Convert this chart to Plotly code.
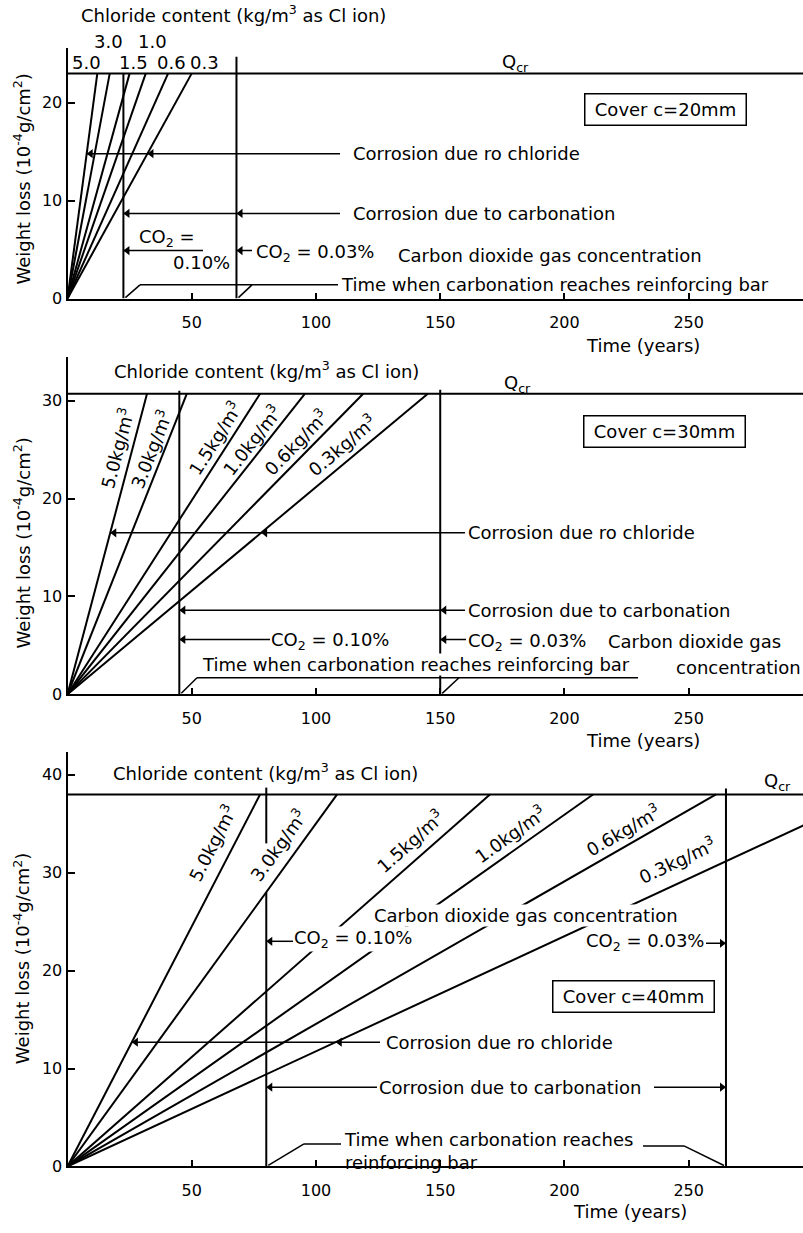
import math
import plotly.graph_objects as go

W, H = 803, 1233
FONT = "DejaVu Sans"

# ---------------- data ----------------
chloride_levels = ["5.0", "3.0", "1.5", "1.0", "0.6", "0.3"]   # kg/m3 as Cl ion
covers = ["Cover c=20mm", "Cover c=30mm", "Cover c=40mm"]
co2_labels = ["0.10%", "0.03%"]

# critical weight loss Qcr (10^-4 g/cm2) per cover
qcr_values = [23.0, 30.7, 38.0]
# time (years) at which each chloride line reaches Qcr
t_qcr_20 = [12.0, 17.0, 25.0, 31.5, 40.5, 50.0]
t_qcr_30 = [32.0, 48.0, 77.5, 95.5, 119.0, 145.0]
t_qcr_40 = [77.5, 108.5, 170.0, 211.5, 261.0, 323.0]
# time when carbonation reaches reinforcing bar: CO2 = 0.10 %, 0.03 %
t_carb_20 = [22.5, 68.0]
t_carb_30 = [45.0, 150.0]
t_carb_40 = [80.0, 265.0]

x_ticks = [50, 100, 150, 200, 250]
y_ticks = [[0, 10, 20], [0, 10, 20, 30], [0, 10, 20, 30, 40]]

# ---------------- geometry ----------------
X_LEFT = 67.5
X_MAX = 296.0
panels = [  # (top px, bottom px)
    (48, 301),
    (360, 700),
    (758, 1176),
]
PPY = 9.87
ymaxes = [(b - t) / PPY for t, b in panels]
PPX = (W - X_LEFT) / X_MAX

fig = go.Figure()

def ax_names(i):
    return ("x" if i == 0 else f"x{i+1}", "y" if i == 0 else f"y{i+1}")

for i, (top, bot) in enumerate(panels):
    xn, yn = ax_names(i)
    xa = "xaxis" if i == 0 else f"xaxis{i+1}"
    ya = "yaxis" if i == 0 else f"yaxis{i+1}"
    fig.layout[xa] = dict(
        domain=[X_LEFT / W, 1], range=[0, X_MAX], anchor=yn,
        tickvals=x_ticks, ticks="inside", ticklen=6, tickwidth=1.5, tickcolor="black",
        ticklabelstandoff=8,
        showline=True, linewidth=2, linecolor="black", showgrid=False, zeroline=False,
        tickfont=dict(family=FONT, size=16, color="black"),
    )
    fig.layout[ya] = dict(
        domain=[1 - bot / H, 1 - top / H], range=[0, ymaxes[i]], anchor=xn,
        tickvals=y_ticks[i], ticks="inside", ticklen=7, tickwidth=1.5, tickcolor="black",
        showline=True, linewidth=2, linecolor="black", showgrid=False, zeroline=False,
        tickfont=dict(family=FONT, size=16, color="black"),
    )

LINE = dict(color="black", width=2)

def seg(i, x0, y0, x1, y1, width=1.5):
    xn, yn = ax_names(i)
    fig.add_shape(type="line", xref=xn, yref=yn, x0=x0, y0=y0, x1=x1, y1=y1,
                  line=dict(color="black", width=width))

heads = {0: ([], [], []), 1: ([], [], []), 2: ([], [], [])}

def head(i, x, y, direction):
    """arrow tip at (x, y); direction -1 = points left, +1 = points right"""
    hx, hy, hs = heads[i]
    hx.append(x - direction * 4.0 / PPX)
    hy.append(y)
    hs.append("triangle-left" if direction < 0 else "triangle-right")

def text(px, py, s, anchor="left", size=18, bg="rgba(0,0,0,0)", angle=0, **kw):
    fig.add_annotation(x=px / W, y=1 - py / H, xref="paper", yref="paper", text=s,
                       showarrow=False, xanchor=anchor, yanchor="middle",
                       font=dict(family=FONT, size=size, color="black"),
                       textangle=angle, bgcolor=bg, borderpad=0, **kw)

def box(px, py, s):
    fig.add_annotation(x=px / W, y=1 - py / H, xref="paper", yref="paper", text=s,
                       showarrow=False, xanchor="center", yanchor="middle",
                       font=dict(family=FONT, size=18, color="black"),
                       bordercolor="black", borderwidth=1.5, borderpad=5,
                       bgcolor="white", width=150, height=20)

t_qcr_all = [t_qcr_20, t_qcr_30, t_qcr_40]
t_carb_all = [t_carb_20, t_carb_30, t_carb_40]

# chloride lines, Qcr line, carbonation verticals (traces)
vert_tops = [[qcr_values[0], 24.7], [31.0, 31.1], [38.7, 38.6]]
for i in range(3):
    xn, yn = ax_names(i)
    q = qcr_values[i]
    for lvl, t in zip(chloride_levels, t_qcr_all[i]):
        fig.add_trace(go.Scatter(x=[0, t], y=[0, q], mode="lines", line=LINE,
                                 xaxis=xn, yaxis=yn, hoverinfo="skip", name=lvl))
    fig.add_trace(go.Scatter(x=[0, X_MAX], y=[q, q], mode="lines", line=LINE,
                             xaxis=xn, yaxis=yn, hoverinfo="skip", name="Qcr"))
    for k, tc in enumerate(t_carb_all[i]):
        top = vert_tops[i][k]
        if i == 2 and k == 0:
            # broken by the 3.0 label
            y_cross = q * tc / t_qcr_all[i][1]
            fig.add_trace(go.Scatter(x=[tc, tc, None, tc, tc], y=[0, y_cross, None, 33.0, top],
                                     mode="lines", line=LINE, xaxis=xn, yaxis=yn,
                                     hoverinfo="skip", connectgaps=False))
        else:
            fig.add_trace(go.Scatter(x=[tc, tc], y=[0, top], mode="lines", line=LINE,
                                     xaxis=xn, yaxis=yn, hoverinfo="skip"))

def ppy(i):
    t, b = panels[i]
    return (b - t) / ymaxes[i]

def xyr(px):
    return (px - X_LEFT) / PPX

# ---------- chloride arrows ----------
ch_levels = [14.8, 16.5, 12.7]
ch_end_px = [340, 465, 380]
for i in range(3):
    q = qcr_values[i]
    y = ch_levels[i]
    t5 = t_qcr_all[i][0] * y / q
    t03 = t_qcr_all[i][5] * y / q
    seg(i, t5, y, xyr(ch_end_px[i]), y)
    head(i, t5, y, -1)
    head(i, t03, y, -1)

# ---------- carbonation arrows ----------
seg(0, t_carb_20[0], 8.7, xyr(340), 8.7)
head(0, t_carb_20[0], 8.7, -1)
head(0, t_carb_20[1], 8.7, -1)
seg(1, t_carb_30[0], 8.6, xyr(465), 8.6)
head(1, t_carb_30[0], 8.6, -1)
head(1, t_carb_30[1], 8.6, -1)
seg(2, t_carb_40[0], 8.1, xyr(377), 8.1)
seg(2, xyr(654), 8.1, t_carb_40[1], 8.1)
head(2, t_carb_40[0], 8.1, -1)
head(2, t_carb_40[1], 8.1, 1)

# ---------- CO2 leader lines ----------
seg(0, t_carb_20[0], 4.9, xyr(203), 4.9)
head(0, t_carb_20[0], 4.9, -1)
seg(0, t_carb_20[1], 4.9, xyr(252), 4.9)
head(0, t_carb_20[1], 4.9, -1)

seg(1, t_carb_30[0], 5.6, xyr(270), 5.6)
head(1, t_carb_30[0], 5.6, -1)
seg(1, t_carb_30[1], 5.6, xyr(466), 5.6)
head(1, t_carb_30[1], 5.6, -1)

seg(2, t_carb_40[0], 23.0, xyr(293), 23.0)
head(2, t_carb_40[0], 23.0, -1)
seg(2, xyr(706), 22.8, t_carb_40[1], 22.8)
head(2, t_carb_40[1], 22.8, 1)

# arrowheads as triangle markers
for i in range(3):
    xn, yn = ax_names(i)
    hx, hy, hs = heads[i]
    fig.add_trace(go.Scatter(x=hx, y=hy, mode="markers", xaxis=xn, yaxis=yn,
                             marker=dict(symbol=hs, size=8, color="black"),
                             hoverinfo="skip", cliponaxis=False))

# ---------- "Time when carbonation reaches reinforcing bar" leaders ----------
seg(0, xyr(140), 1.4, xyr(338), 1.4)
seg(0, xyr(140), 1.4, t_carb_20[0] + 0.8, 0.1)
seg(0, xyr(252), 1.4, t_carb_20[1] + 0.8, 0.1)

seg(1, xyr(197), 1.7, xyr(638), 1.7)
seg(1, xyr(197), 1.7, t_carb_30[0] + 0.8, 0.1)
seg(1, xyr(459), 1.7, t_carb_30[1] + 0.8, 0.1)

seg(2, xyr(304), 2.3, xyr(341), 2.3)
seg(2, xyr(304), 2.3, t_carb_40[0] + 0.8, 0.1)
seg(2, xyr(643), 2.1, xyr(684), 2.1)
seg(2, xyr(684), 2.1, t_carb_40[1] - 0.8, 0.1)

# ---------- texts ----------
CHL = "Chloride content (kg/m<sup>3</sup> as Cl ion)"
QCR = "Q<sub>cr</sub>"
YT = "Weight loss (10<sup>-4</sup>g/cm<sup>2</sup>)"
XT = "Time (years)"
CO2 = "CO<sub>2</sub>"

for cy in [181, 548, 967]:
    text(22, cy, YT, anchor="center", angle=-90)
text(643, 348, XT, anchor="center")
text(643, 747, XT, anchor="center")
text(630, 1221, XT, anchor="center")

# panel 1
text(80, 14, CHL)
p1_lab = {"3.0": (109, 42), "1.0": (152, 42), "5.0": (86, 63), "1.5": (133, 63),
          "0.6": (171, 63), "0.3": (204, 63)}
for lvl in chloride_levels:
    px, py = p1_lab[lvl]
    text(px, py, lvl, anchor="center")
text(515, 64, QCR, anchor="center")
box(665, 110, covers[0])
text(352, 155, "Corrosion due ro chloride")
text(352, 215, "Corrosion due to carbonation")
text(138, 240, CO2 + " =")
text(172, 265, co2_labels[0])
text(255, 255, CO2 + " = " + co2_labels[1])
text(397, 258, "Carbon dioxide gas concentration")
text(340, 287, "Time when carbonation reaches reinforcing bar")

# panel 2
text(113, 373, CHL)
text(517, 387, QCR, anchor="center")
box(664, 435, covers[1])
text(467, 537, "Corrosion due ro chloride")
text(467, 615, "Corrosion due to carbonation")
text(270, 646, CO2 + " = " + co2_labels[0])
text(467, 647, CO2 + " = " + co2_labels[1])
text(607, 647, "Carbon dioxide gas")
text(675, 673, "concentration")
text(201, 670, "Time when carbonation reaches reinforcing bar", bg="white")

# panel 3
text(112, 778, CHL)
text(777, 788, QCR, anchor="center")
text(373, 923, "Carbon dioxide gas concentration", bg="white")
text(293, 947, CO2 + " = " + co2_labels[0], bg="white")
text(705, 950, CO2 + " = " + co2_labels[1], anchor="right")
box(633, 1005, covers[2])
text(385, 1051, "Corrosion due ro chloride")
text(378, 1096, "Corrosion due to carbonation")
text(343, 1160, "Time when carbonation reaches<br>reinforcing bar", align="left")

# rotated chloride labels, panels 2 and 3
lab_pos = [
    None,
    [(117, 452), (151, 453), (215, 442), (252, 444), (296, 446), (342, 449)],
    [(212, 850), (278, 852), (410, 848), (510, 841), (623, 837), (677, 867)],
]
for i in (1, 2):
    q = qcr_values[i]
    for lvl, t, (px, py) in zip(chloride_levels, t_qcr_all[i], lab_pos[i]):
        ang = -math.degrees(math.atan2(q * ppy(i), t * PPX))
        text(px, py, f"{lvl}kg/m<sup>3</sup>", anchor="center", angle=ang)

fig.update_layout(
    width=W, height=H, margin=dict(l=0, r=0, t=0, b=0),
    paper_bgcolor="white", plot_bgcolor="white", showlegend=False,
    font=dict(family=FONT, size=18, color="black"),
)

fig.write_html("out.html")
